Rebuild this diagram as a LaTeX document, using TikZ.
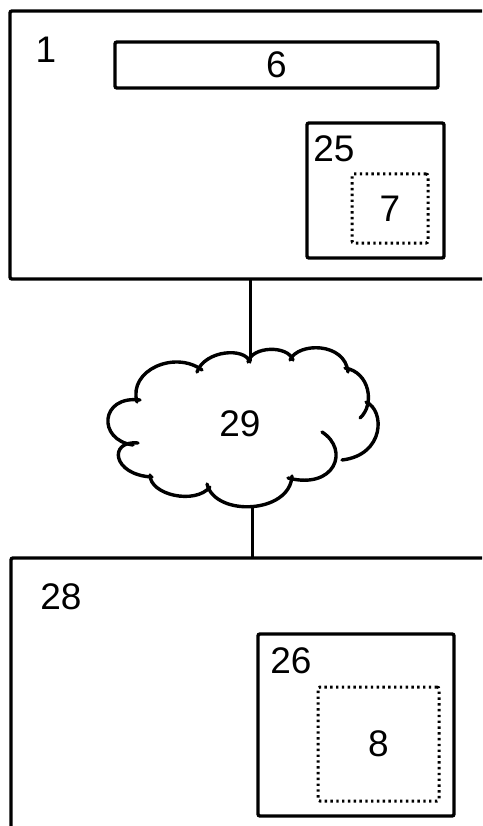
\documentclass[tikz,border=0pt]{standalone}
\usepackage{fontspec}
\setmainfont{Liberation Sans}
\begin{document}
\begin{tikzpicture}[x=1pt,y=-1pt,
  line width=3.4pt,
  frame/.style={draw, rectangle, anchor=north west, inner sep=0pt, outer sep=0pt, rounded corners=2pt},
  dotbox/.style={frame, line width=3pt, dash pattern=on 2.4pt off 3.4pt},
  num/.style={inner sep=0pt, font=\fontsize{37}{40}\selectfont},
  link/.style={draw, line width=3pt}]
\useasboundingbox (0,0) rectangle (482,826);
\clip (0,0) rectangle (482,826);

% upper device
\node[frame, minimum width=490pt, minimum height=268pt] (dev1) at (10,11) {};
\node[num] (l1) at (46,50) {1};
\node[frame, minimum width=323pt, minimum height=46pt] (bar6) at (115,42) {};
\node[num] at (bar6.center) {6};
\node[frame, minimum width=137pt, minimum height=135pt] (mod25) at (307,123) {};
\node[num] (l25) at (334,149) {25};
\node[dotbox, minimum width=76pt, minimum height=69pt] (sub7) at (352,174) {};
\node[num] at (sub7.center) {7};

% network cloud
\coordinate (cloudN) at (250,361);
\coordinate (cloudS) at (252,505);
\node[num] (cloud) at (240,424) {29};
\begin{scope}[line cap=round]
\draw (137,402) .. controls (128,370) and (175,350) .. (202,370);
\draw (197,372) .. controls (205,350) and (245,347) .. (250,362);
\draw (248,362) .. controls (252,346) and (288,345) .. (293,360);
\draw (290,360) .. controls (298,342) and (345,342) .. (348,372);
\draw (345,368) .. controls (370,372) and (375,405) .. (360,418);
\draw (366,402) .. controls (385,410) and (385,455) .. (342,460);
\draw (322,432) .. controls (350,450) and (335,490) .. (288,478);
\draw (292,476) .. controls (290,514) and (215,517) .. (207,484);
\draw (210,487) .. controls (195,505) and (150,495) .. (150,475);
\draw (152,477) .. controls (112,475) and (108,440) .. (138,443);
\draw (133,445) .. controls (97,440) and (100,395) .. (140,400);
\end{scope}

% lower device
\node[frame, minimum width=490pt, minimum height=300pt] (dev28) at (11,558) {};
\node[num] (l28) at (61,597) {28};
\node[frame, minimum width=196pt, minimum height=182pt] (mod26) at (258,634) {};
\node[num] (l26) at (291,661) {26};
\node[dotbox, minimum width=121pt, minimum height=114pt] (sub8) at (318,687) {};
\node[num] at (sub8.center) {8};

% links
\draw[link] (dev1.south -| cloudN) -- (cloudN);
\draw[link] (cloudS) -- (cloudS |- dev28.north);
\end{tikzpicture}
\end{document}
